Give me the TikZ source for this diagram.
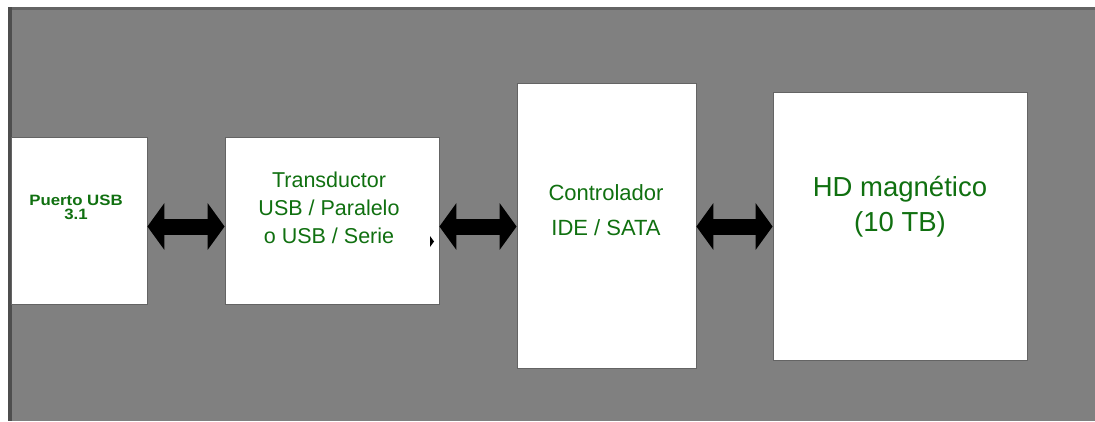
\documentclass[tikz,border=0pt]{standalone}
\usepackage{fontspec}
\setmainfont{Liberation Sans}
\usetikzlibrary{arrows.meta}
\definecolor{bg}{RGB}{128,128,128}
\definecolor{edgedark}{RGB}{78,78,78}
\definecolor{edgetop}{RGB}{100,100,100}
\definecolor{txtgreen}{RGB}{16,112,16}
\definecolor{boxline}{RGB}{100,100,100}
\tikzset{
  blk/.style={draw=boxline, line width=0.8pt, fill=white, inner sep=0pt},
  lbl/.style={text=txtgreen, align=center, inner sep=0pt},
  conn/.style={line width=16pt, {Triangle[length=17pt,width=46pt]}-{Triangle[length=17pt,width=46pt]}}
}
\begin{document}
\begin{tikzpicture}[x=1pt,y=-1pt]
\useasboundingbox (0,0) rectangle (1095,421);
% background
\fill[white] (0,0) rectangle (1095,421);
\fill[bg] (8,7) rectangle (1095,421);
\fill[edgetop] (8,7) rectangle (1095,9.5);
\fill[edgedark] (8,7) rectangle (11.5,421);
% boxes
\node[blk, minimum width=136pt, minimum height=167pt] (b1) at (79,220.5) {};
\node[blk, minimum width=214pt, minimum height=167pt] (b2) at (332,220.5) {};
\node[blk, minimum width=179pt, minimum height=285pt] (b3) at (606.5,225.5) {};
\node[blk, minimum width=254pt, minimum height=268pt] (b4) at (900,226) {};
% labels
\node[lbl, font=\fontsize{15}{14.5}\selectfont\bfseries, xscale=1.12, transform shape] (t1) at (76,207.5) {Puerto USB\\3.1};
\node[lbl, font=\fontsize{21.5}{28}\selectfont] (t2) at (329,208) {Transductor\\USB / Paralelo\\o USB / Serie};
\node[lbl, font=\fontsize{22}{35}\selectfont] (t3) at (606,210) {Controlador\\IDE / SATA};
\node[lbl, font=\fontsize{27.5}{35}\selectfont] (t4) at (900,207) {HD magnético\\(10 TB)};
% connectors
\coordinate (ay) at (0,226.5);
\draw[conn] (b1.east |- ay) -- (b2.west |- ay);
\draw[conn] (b2.east |- ay) -- (b3.west |- ay);
\draw[conn] (b3.east |- ay) -- (b4.west |- ay);
% small stray tip
\coordinate (m1) at (430,236);
\coordinate (m2) at (434,241.5);
\coordinate (m3) at (430,247);
\fill (m1) -- (m2) -- (m3) -- cycle;
\end{tikzpicture}
\end{document}
